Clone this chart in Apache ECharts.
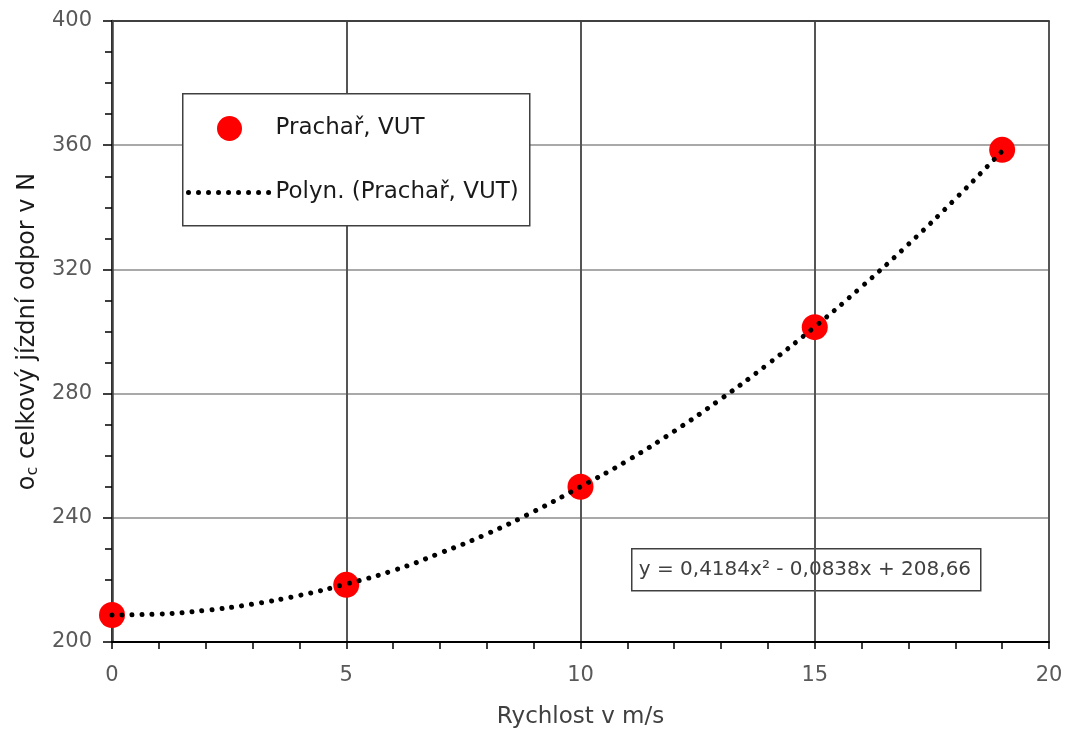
<!DOCTYPE html>
<html>
<head>
<meta charset="utf-8">
<script src="https://cdn.jsdelivr.net/npm/echarts@6/dist/echarts.min.js"></script>
<style>
  html, body { margin: 0; padding: 0; background: #fff; }
  #main { width: 1073px; height: 734px; }
</style>
</head>
<body>
<div id="main"></div>
<script>
// measured points (speed m/s, resistance N)
const speeds = [0, 5, 10, 15, 19];
const resistance = [208.7, 218.4, 250, 301.4, 358.5];

// dotted trend curve
const trendX = [0, 1, 2, 3, 4, 5, 6, 7, 8, 9, 10, 11, 12, 13, 14, 15, 16, 17, 18, 19];
const trendY = [208.7, 209, 210.2, 212.2, 215, 218.7, 223, 228.6, 234.8, 242, 250,
                258.4, 267.9, 278.3, 289.5, 301.5, 314.4, 328.1, 342.7, 358.1];

const yTicks = [200, 240, 280, 320, 360, 400];
const equation = 'y = 0,4184x² - 0,0838x + 208,66';

const font = '"DejaVu Sans", sans-serif';
const dotted = { color: '#000', width: 5, type: [0.01, 10], cap: 'round' };

const chart = echarts.init(document.getElementById('main'));

const option = {
    animation: false,
    textStyle: { fontFamily: font },
    grid: { left: 112, right: 24, top: 21, bottom: 92 },
    legend: {
        orient: 'vertical',
        left: 181,
        top: 111,
        itemWidth: 82,
        itemHeight: 25,
        itemGap: 40,
        z: 10,
        textStyle: { fontSize: 23, color: '#1a1a1a', fontFamily: font },
        data: [
            { name: 'Prachař, VUT' },
            {
                name: 'Polyn. (Prachař, VUT)',
                lineStyle: dotted,
                itemStyle: { color: 'rgba(0,0,0,0)', borderWidth: 0 }
            }
        ]
    },
    xAxis: [{
        type: 'value',
        min: 0,
        max: 20,
        interval: 5,
        name: 'Rychlost v m/s',
        nameLocation: 'middle',
        nameGap: 64,
        nameTextStyle: { fontSize: 23, color: '#404040' },
        axisLine: { lineStyle: { color: '#000', width: 2 } },
        axisTick: { length: 7, lineStyle: { color: '#000', width: 1.5 } },
        minorTick: { show: true, splitNumber: 5, length: 7, lineStyle: { color: '#000', width: 1.5 } },
        axisLabel: { fontSize: 21, color: '#595959', margin: 23 },
        splitLine: { show: true, lineStyle: { color: '#555', width: 2 } }
    }, {
        type: 'value',
        position: 'top',
        min: 0,
        max: 20,
        interval: 5,
        axisLine: { show: true, lineStyle: { color: '#404040', width: 2 } },
        axisTick: { show: false },
        axisLabel: { show: false },
        splitLine: { show: false }
    }],
    yAxis: [{
        type: 'value',
        min: 200,
        max: 400,
        interval: 40,
        name: '{m|o}{s|c}{m| celkový jízdní odpor v N}',
        nameLocation: 'middle',
        nameGap: 70,
        nameTextStyle: {
            color: '#000',
            rich: {
                m: { fontSize: 24, color: '#1a1a1a', fontFamily: font },
                s: { fontSize: 16, color: '#1a1a1a', fontFamily: font, padding: [11, 0, 0, 0] }
            }
        },
        axisLine: { show: true, lineStyle: { color: '#000', width: 2 } },
        axisTick: { show: true, length: 9, lineStyle: { color: '#000', width: 1.5 } },
        minorTick: { show: true, splitNumber: 4, length: 7, lineStyle: { color: '#000', width: 1.5 } },
        axisLabel: {
            fontSize: 21,
            color: '#595959',
            margin: 20,
            formatter: v => yTicks.includes(v) ? String(v) : ''
        },
        splitLine: { show: true, lineStyle: { color: '#8c8c8c', width: 1.5 } }
    }, {
        type: 'value',
        position: 'right',
        min: 200,
        max: 400,
        interval: 40,
        axisLine: { show: true, lineStyle: { color: '#404040', width: 2.5 } },
        axisTick: { show: false },
        axisLabel: { show: false },
        splitLine: { show: false }
    }],
    series: [{
        name: 'Prachař, VUT',
        type: 'scatter',
        symbol: 'circle',
        symbolSize: 26,
        itemStyle: { color: '#ff0000', opacity: 1 },
        data: speeds.map((x, i) => [x, resistance[i]]),
        z: 3
    }, {
        name: 'Polyn. (Prachař, VUT)',
        type: 'line',
        smooth: true,
        showSymbol: false,
        symbol: 'none',
        lineStyle: dotted,
        itemStyle: { color: '#000' },
        data: trendX.map((x, i) => [x, trendY[i]]),
        z: 4
    }],
    graphic: [{
        type: 'rect',
        left: 182,
        top: 93,
        z: 8,
        shape: { width: 347, height: 132 },
        style: { fill: '#fff', stroke: '#404040', lineWidth: 1.5 }
    }, {
        type: 'group',
        left: 631,
        top: 548,
        z: 8,
        children: [{
            type: 'rect',
            shape: { x: 0, y: 0, width: 349, height: 42 },
            style: { fill: '#fff', stroke: '#404040', lineWidth: 1.5 }
        }, {
            type: 'text',
            x: 7,
            y: 21,
            style: {
                text: equation,
                fontSize: 20,
                fontFamily: font,
                fill: '#404040',
                verticalAlign: 'middle'
            }
        }]
    }]
};

chart.setOption(option);
</script>
</body>
</html>
